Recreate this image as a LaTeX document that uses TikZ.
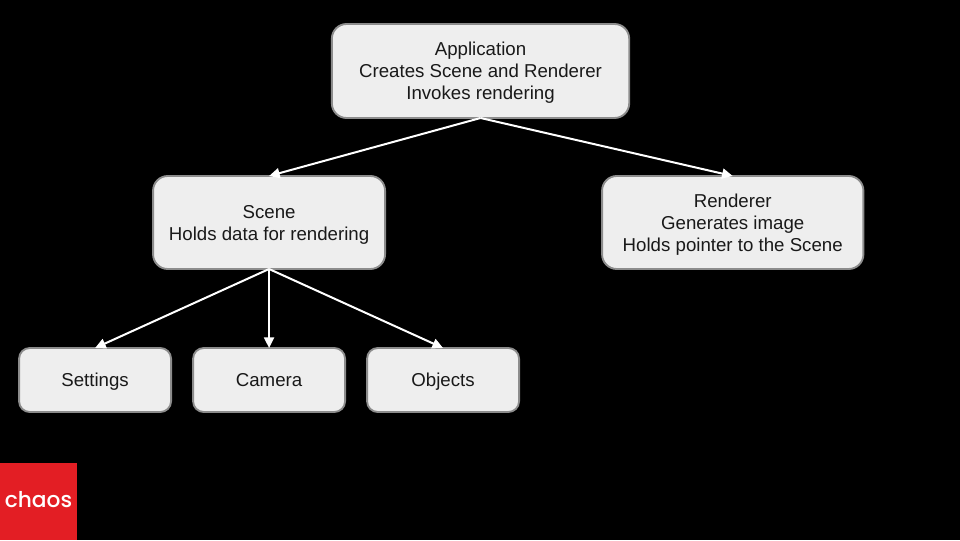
\documentclass[tikz,border=0pt]{standalone}
\usepackage{fontspec}
\setmainfont{Liberation Sans}
\newfontfamily\logofont{Poppins Medium}
\usepackage{xcolor}
\usetikzlibrary{arrows.meta,positioning}
\definecolor{boxfill}{HTML}{EEEEEE}
\definecolor{boxline}{HTML}{8C8C8C}
\definecolor{logored}{HTML}{E31E24}

\begin{document}
\begin{tikzpicture}[
        every node/.style={inner sep=0pt,outer sep=0pt},
        box/.style={draw=boxline,fill=boxfill,line width=1.4pt,rounded corners=11pt,align=center,text=black!90,font=\fontsize{14}{16.5}\selectfont,minimum height=69.75pt,text depth=-1.5pt},
        tall/.style={box,text depth=-2.6pt},
        leaf/.style={box,rounded corners=8pt,minimum width=114pt,minimum height=48pt,text height=12pt,text depth=3pt},
        to/.style={-{Triangle[length=8pt,width=7.5pt]},draw=white,line width=1.5pt},
        ]
      \fill[black] (0,0) rectangle (720pt,405pt);
      \path[use as bounding box] (0,0) rectangle (720pt,405pt);

      \node [tall, minimum width=223pt, minimum height=70.5pt] (application) at (360.4pt,351.75pt) {Application\\Creates Scene and Renderer\\Invokes rendering};
      \node [box, minimum width=174pt, below=43.5pt of application, xshift=-158.6pt] (scene) {Scene\\Holds data for rendering};
      \node [tall, minimum width=196pt, right=162.75pt of scene] (renderer) {Renderer\\Generates image\\Holds pointer to the Scene};
      \node [leaf, below=59.25pt of scene] (camera) {Camera};
      \node [leaf, left=16.5pt of camera] (settings) {Settings};
      \node [leaf, right=16.5pt of camera] (objects) {Objects};
      \node [fill=logored, minimum size=57.75pt, anchor=south west] (logo) at (0,0) {};
      \node [text=white, font=\logofont\fontsize{16.3}{16.3}\selectfont, yshift=1.5pt] at (logo.center) (chaos) {chaos};

      \draw[to] (application.south) -- (scene.north);
      \draw[to] (application.south) -- (renderer.north);
      \draw[to] (scene.south) -- (settings.north);
      \draw[to] (scene.south) -- (camera.north);
      \draw[to] (scene.south) -- (objects.north);
    \end{tikzpicture}
\end{document}
